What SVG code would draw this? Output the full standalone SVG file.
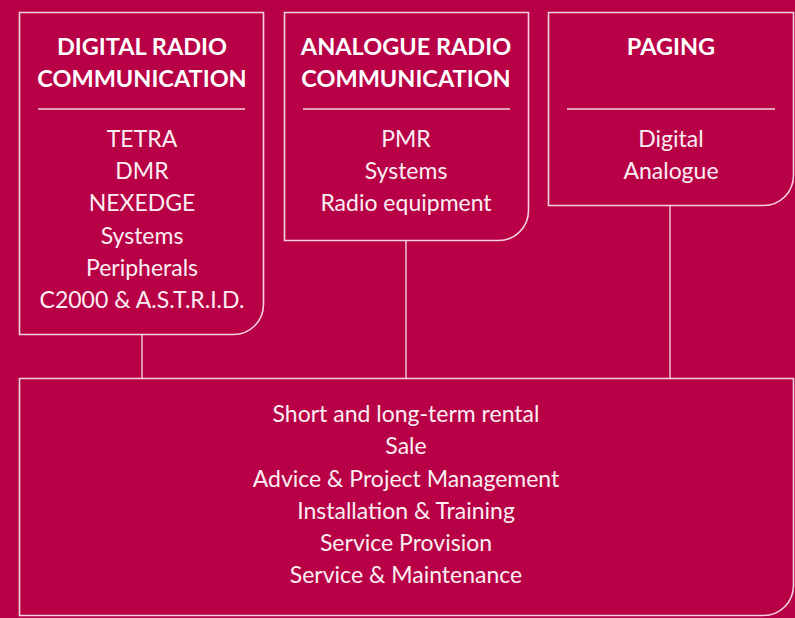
<svg xmlns="http://www.w3.org/2000/svg" width="795" height="618" viewBox="0 0 795 618">
<style>
.box{fill:none;stroke:#f3d3df;stroke-width:1.6}
.div{stroke:#f3d3df;stroke-width:1.3}
.con{stroke:#f3d3df;stroke-width:1.4;fill:none}
.h{font-family:Lato,"Liberation Sans",sans-serif;font-weight:bold;font-size:23.5px;fill:#ffffff;text-anchor:middle}
.t{font-family:Lato,"Liberation Sans",sans-serif;font-size:23px;fill:#fbeef2;text-anchor:middle}
</style>
<rect width="795" height="618" fill="#b80046"/>
<g id="connectors">
<line class="con" x1="142" y1="334" x2="142" y2="378"/>
<line class="con" x1="406" y1="240" x2="406" y2="378"/>
<line class="con" x1="670" y1="205" x2="670" y2="378"/>
</g>
<g id="digital">
<path class="box" d="M19.5 12.5H263.5V304.5A30 30 0 0 1 233.5 334.5H19.5Z"/>
<text class="h" x="142" y="55">DIGITAL RADIO</text>
<text class="h" x="142" y="87">COMMUNICATION</text>
<line class="div" x1="38" y1="109" x2="245" y2="109"/>
<text class="t" x="142" y="147">TETRA</text>
<text class="t" x="142" y="179">DMR</text>
<text class="t" x="142" y="211">NEXEDGE</text>
<text class="t" x="142" y="244">Systems</text>
<text class="t" x="142" y="276">Peripherals</text>
<text class="t" x="142" y="308">C2000 &amp; A.S.T.R.I.D.</text>
</g>
<g id="analogue">
<path class="box" d="M284.5 12.5H528.5V210.5A30 30 0 0 1 498.5 240.5H284.5Z"/>
<text class="h" x="406" y="55">ANALOGUE RADIO</text>
<text class="h" x="406" y="87">COMMUNICATION</text>
<line class="div" x1="303" y1="109" x2="510" y2="109"/>
<text class="t" x="406" y="147">PMR</text>
<text class="t" x="406" y="179">Systems</text>
<text class="t" x="406" y="211">Radio equipment</text>
</g>
<g id="paging">
<path class="box" d="M548.5 12.5H793.5V175.5A30 30 0 0 1 763.5 205.5H548.5Z"/>
<text class="h" x="671" y="55">PAGING</text>
<line class="div" x1="567" y1="109" x2="775" y2="109"/>
<text class="t" x="671" y="147">Digital</text>
<text class="t" x="671" y="179">Analogue</text>
</g>
<g id="services">
<path class="box" d="M19.5 378.5H793.5V585.5A30 30 0 0 1 763.5 615.5H19.5Z"/>
<text class="t" x="406" y="422">Short and long-term rental</text>
<text class="t" x="406" y="454">Sale</text>
<text class="t" x="406" y="487">Advice &amp; Project Management</text>
<text class="t" x="406" y="519">Installation &amp; Training</text>
<text class="t" x="406" y="551">Service Provision</text>
<text class="t" x="406" y="583">Service &amp; Maintenance</text>
</g>
</svg>
